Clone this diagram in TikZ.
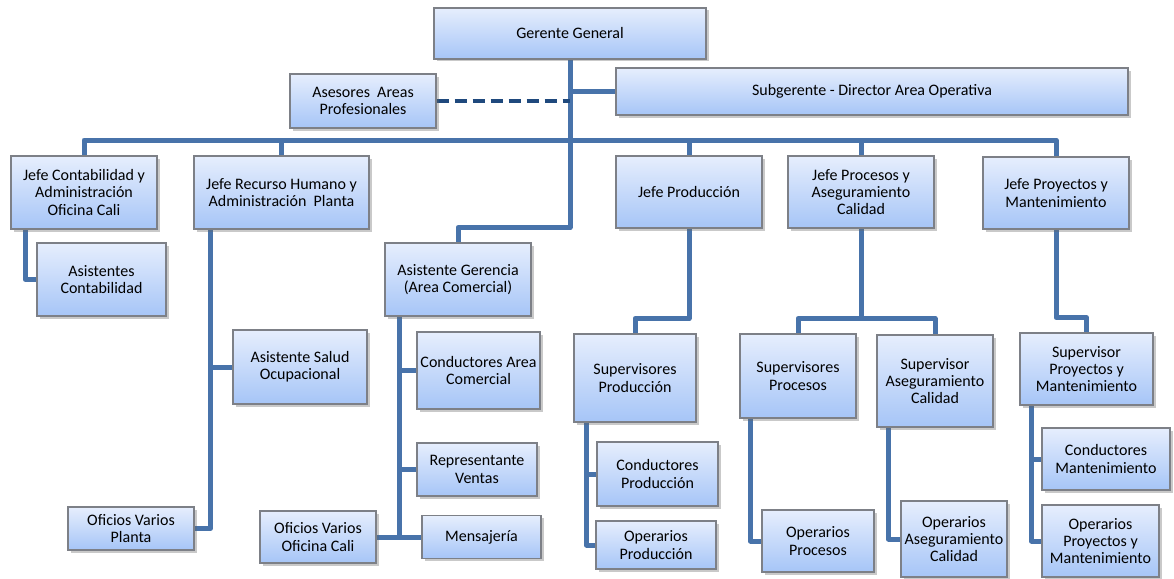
\documentclass[tikz,border=0pt]{standalone}
\usepackage{fontspec}
\setmainfont{Carlito}
\usetikzlibrary{shadows}
\definecolor{boxtop}{RGB}{230,238,253}
\definecolor{boxbot}{RGB}{166,197,247}
\definecolor{boxline}{RGB}{125,128,135}
\definecolor{conncol}{RGB}{72,115,170}
\definecolor{dashcol}{RGB}{31,73,125}
\pgfdeclarelayer{bg}
\pgfsetlayers{bg,main}
\begin{document}
\begin{tikzpicture}[x=1pt,y=-1pt,
  box/.style={draw=boxline, line width=1.2pt, top color=boxtop, bottom color=boxbot,
    drop shadow={shadow xshift=2.5pt, shadow yshift=-2.5pt, opacity=0.35, fill=black!60},
    align=center, inner sep=1pt, font=\fontsize{16}{17.3}\selectfont, text=black},
  connline/.style={draw=conncol, line width=5pt, line join=round},
  dashline/.style={draw=dashcol, line width=4.5pt, dash pattern=on 12pt off 6pt},
  ]
\useasboundingbox (0,0) rectangle (1174,578);
% boxes
\node[box, minimum width=272pt, minimum height=51pt] (gg) at (570,33.5) {Gerente General};
\node[box, minimum width=146pt, minimum height=54pt] (as) at (363,101) {Asesores\ \ Areas\\Profesionales};
\node[box, minimum width=512pt, minimum height=47pt] (sg) at (872,91.5) {Subgerente - Director Area Operativa};
\node[box, minimum width=146pt, minimum height=73pt] (jc) at (84,192.5) {Jefe Contabilidad y\\Administración\\Oficina Cali};
\node[box, minimum width=175pt, minimum height=73pt] (jrh) at (281.5,192.5) {Jefe Recurso Humano y\\Administración\ \ Planta};
\node[box, minimum width=146pt, minimum height=72pt] (jp) at (689,192) {Jefe Producción};
\node[box, minimum width=146pt, minimum height=72pt] (jpc) at (861,192) {Jefe Procesos y\\Aseguramiento\\Calidad};
\node[box, minimum width=146pt, minimum height=72pt] (jpm) at (1056,193) {Jefe Proyectos y\\Mantenimiento};
\node[box, minimum width=129pt, minimum height=73pt] (ac) at (101.5,279.5) {Asistentes\\Contabilidad};
\node[box, minimum width=146pt, minimum height=73pt] (ag) at (458,279.5) {Asistente Gerencia\\(Area Comercial)};
\node[box, minimum width=134pt, minimum height=74pt] (aso) at (300,367) {Asistente Salud\\Ocupacional};
\node[box, minimum width=126pt, minimum height=43pt] (ofp) at (131,528.5) {Oficios Varios\\Planta};
\node[box, minimum width=123pt, minimum height=77pt] (cac) at (478.5,370.5) {Conductores Area\\Comercial};
\node[box, minimum width=120pt, minimum height=53pt] (rv) at (477,469.5) {Representante\\Ventas};
\node[box, minimum width=116pt, minimum height=52pt] (ofc) at (318,537) {Oficios Varios\\Oficina Cali};
\node[box, minimum width=119pt, minimum height=43pt] (men) at (481.5,537) {Mensajería};
\node[box, minimum width=122pt, minimum height=88pt] (sp) at (635,378) {Supervisores\\Producción};
\node[box, minimum width=121pt, minimum height=64pt] (cp) at (657.5,474) {Conductores\\Producción};
\node[box, minimum width=120pt, minimum height=48pt] (op) at (656,545) {Operarios\\Producción};
\node[box, minimum width=116pt, minimum height=84pt] (spc) at (798,376) {Supervisores\\Procesos};
\node[box, minimum width=112pt, minimum height=62pt] (opc) at (818,541) {Operarios\\Procesos};
\node[box, minimum width=116pt, minimum height=92pt] (sac) at (935,381) {Supervisor\\Aseguramiento\\Calidad};
\node[box, minimum width=106pt, minimum height=76pt] (oac) at (954,539) {Operarios\\Aseguramiento\\Calidad};
\node[box, minimum width=133pt, minimum height=72pt] (spm) at (1086.5,369) {Supervisor\\Proyectos y\\Mantenimiento};
\node[box, minimum width=128pt, minimum height=62pt] (cm) at (1106,459) {Conductores\\Mantenimiento};
\node[box, minimum width=117pt, minimum height=72pt] (opm) at (1100.5,541) {Operarios\\Proyectos y\\Mantenimiento};
\coordinate (bus) at (0,140);
\begin{pgfonlayer}{bg}
\fill[white] (0,0) rectangle (1174,578);
% top level
\draw[connline] (gg.south) -- ++(0,168) -| (ag.north);
\draw[connline] (gg.south |- sg.west) -- (sg.west);
\draw[dashline] (as.east) -- (gg.south |- as.east);
\draw[connline] (jc.north) -- (jc.north |- bus) -- (jpm.north |- bus) -- (jpm.north);
\draw[connline] (jrh.north) -- (jrh.north |- bus);
\draw[connline] (jp.north) -- (jp.north |- bus);
\draw[connline] (jpc.north) -- (jpc.north |- bus);
% contabilidad
\draw[connline] ([xshift=15pt]jc.south west) |- (ac.west);
% recurso humano
\coordinate (rhx) at ([xshift=17pt]jrh.south west);
\draw[connline] (rhx) |- (ofp.east);
\draw[connline] (rhx |- aso.west) -- (aso.west);
% asistente gerencia
\coordinate (agx) at ([xshift=15pt]ag.south west);
\draw[connline] (agx) |- (men.west);
\draw[connline] (agx |- cac.west) -- (cac.west);
\draw[connline] (agx |- rv.west) -- (rv.west);
\draw[connline] (ofc.east) -- (agx |- ofc.east);
% produccion
\draw[connline] (jp.south) -- ++(0,90) -| (sp.north);
\coordinate (spx) at ([xshift=13pt]sp.south west);
\draw[connline] (spx) |- (op.west);
\draw[connline] (spx |- cp.west) -- (cp.west);
% procesos
\draw[connline] (jpc.south) -- ++(0,90) coordinate (pcj);
\draw[connline] (spc.north) |- (pcj) -| (sac.north);
\draw[connline] ([xshift=11pt]spc.south west) |- (opc.west);
\draw[connline] ([xshift=12pt]sac.south west) |- (oac.west);
% proyectos
\draw[connline] (jpm.south) -- ++(0,88) -| (spm.north);
\coordinate (pmx) at ([xshift=12pt]spm.south west);
\draw[connline] (pmx) |- (opm.west);
\draw[connline] (pmx |- cm.west) -- (cm.west);
\end{pgfonlayer}
\end{tikzpicture}
\end{document}
